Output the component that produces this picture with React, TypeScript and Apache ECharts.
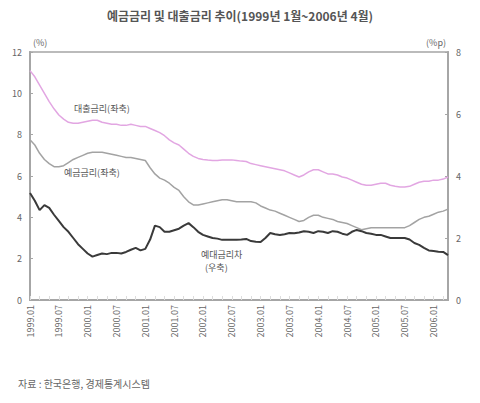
import { useEffect, useRef } from 'react';
import * as echarts from 'echarts';

// 1999.01 ~ 2006.04, monthly
const months: string[] = [];
for (let y = 1999; y <= 2006; y++) {
  for (let m = 1; m <= 12; m++) {
    if (y === 2006 && m > 4) break;
    months.push(`${y}.${String(m).padStart(2, '0')}`);
  }
}

// 대출금리 (좌축, %)
const loanRate = [
  11.1, 10.8, 10.4, 10.0, 9.6, 9.25, 8.95, 8.75, 8.6, 8.55, 8.55, 8.6,
  8.65, 8.7, 8.7, 8.6, 8.55, 8.5, 8.5, 8.45, 8.45, 8.5, 8.45, 8.4,
  8.4, 8.3, 8.2, 8.1, 7.95, 7.75, 7.6, 7.5, 7.3, 7.1, 6.95, 6.85,
  6.8, 6.77, 6.75, 6.75, 6.77, 6.77, 6.78, 6.75, 6.72, 6.7, 6.6, 6.55,
  6.5, 6.45, 6.4, 6.35, 6.3, 6.25, 6.15, 6.05, 5.95, 6.05, 6.2, 6.3,
  6.3, 6.2, 6.1, 6.1, 6.05, 5.95, 5.9, 5.8, 5.7, 5.6, 5.55, 5.55,
  5.6, 5.65, 5.65, 5.55, 5.5, 5.47, 5.47, 5.5, 5.6, 5.7, 5.75, 5.75,
  5.8, 5.8, 5.85, 5.95,
];

// 예금금리 (좌축, %)
const depositRate = [
  7.75, 7.5, 7.1, 6.8, 6.6, 6.45, 6.45, 6.5, 6.65, 6.8, 6.9, 7.0,
  7.1, 7.15, 7.15, 7.15, 7.1, 7.05, 7.0, 6.95, 6.9, 6.9, 6.85, 6.8,
  6.75, 6.4, 6.1, 5.9, 5.8, 5.65, 5.45, 5.3, 5.0, 4.75, 4.6, 4.6,
  4.65, 4.7, 4.75, 4.8, 4.85, 4.85, 4.8, 4.75, 4.75, 4.75, 4.75, 4.7,
  4.55, 4.45, 4.35, 4.3, 4.2, 4.1, 4.0, 3.9, 3.8, 3.85, 4.0, 4.1,
  4.1, 4.0, 3.95, 3.9, 3.8, 3.75, 3.7, 3.6, 3.5, 3.4, 3.45, 3.5,
  3.5, 3.5, 3.5, 3.5, 3.5, 3.5, 3.5, 3.6, 3.75, 3.9, 4.0, 4.05,
  4.15, 4.25, 4.3, 4.4,
];

// 예대금리차 (우축, %p)
const spread = [
  3.45, 3.2, 2.9, 3.06, 2.97, 2.75, 2.55, 2.35, 2.2, 2.0, 1.8, 1.65,
  1.5, 1.4, 1.45, 1.5, 1.48, 1.52, 1.52, 1.5, 1.55, 1.62, 1.68, 1.6,
  1.65, 1.95, 2.4, 2.35, 2.2, 2.2, 2.25, 2.3, 2.4, 2.48, 2.35, 2.2,
  2.1, 2.05, 2.0, 1.98, 1.94, 1.94, 1.94, 1.94, 1.95, 1.97, 1.9, 1.88,
  1.87, 2.0, 2.16, 2.12, 2.1, 2.12, 2.16, 2.15, 2.18, 2.22, 2.2, 2.16,
  2.22, 2.2, 2.16, 2.22, 2.2, 2.14, 2.1, 2.2, 2.26, 2.22, 2.16, 2.14,
  2.1, 2.1, 2.05, 2.0, 2.0, 2.0, 2.0, 1.95, 1.84, 1.78, 1.68, 1.6,
  1.58, 1.56, 1.55, 1.45,
];

const font = '"Noto Sans CJK KR", "Noto Sans", sans-serif';
const axisColor = '#a6a6a6';
const textColor = '#666';

export default function App() {
  const ref = useRef<HTMLDivElement>(null);

  useEffect(() => {
    if (!ref.current) return;
    const chart = echarts.init(ref.current, undefined, { renderer: 'svg' });

    const yAxisCommon = {
      type: 'value' as const,
      splitLine: { show: false },
      axisLine: { show: true, lineStyle: { color: axisColor, width: 2 } },
      axisTick: { show: true, inside: true, length: 3, lineStyle: { color: axisColor } },
      axisLabel: { color: textColor, fontSize: 9, fontFamily: font },
    };

    chart.setOption({
      animation: false,
      textStyle: { fontFamily: font },
      title: {
        text: '예금금리 및 대출금리 추이(1999년 1월~2006년 4월)',
        left: 'center',
        top: 4,
        textStyle: { fontSize: 12, fontWeight: 'bold', color: '#555', fontFamily: font },
      },
      grid: {
        left: 30,
        right: 32,
        top: 52,
        bottom: 103,
        show: true,
        borderColor: '#bbb',
        borderWidth: 2,
      },
      xAxis: {
        type: 'category',
        data: months,
        boundaryGap: false,
        axisLine: { lineStyle: { color: axisColor, width: 2 } },
        axisTick: { inside: true, length: 4, interval: 1, lineStyle: { color: '#ddd' } },
        axisLabel: {
          interval: 5,
          rotate: 90,
          fontSize: 9,
          color: textColor,
          fontFamily: font,
          margin: 5,
        },
      },
      yAxis: [
        { ...yAxisCommon, min: 0, max: 12, interval: 2, position: 'left' },
        { ...yAxisCommon, min: 0, max: 8, interval: 2, position: 'right' },
      ],
      series: [
        {
          name: '대출금리(좌축)',
          type: 'line',
          data: loanRate,
          yAxisIndex: 0,
          symbol: 'none',
          lineStyle: { color: '#e2a6e2', width: 1.5 },
        },
        {
          name: '예금금리(좌축)',
          type: 'line',
          data: depositRate,
          yAxisIndex: 0,
          symbol: 'none',
          lineStyle: { color: '#a3a3a3', width: 1.5 },
        },
        {
          name: '예대금리차(우축)',
          type: 'line',
          data: spread,
          yAxisIndex: 1,
          symbol: 'none',
          lineStyle: { color: '#3a3a3a', width: 2 },
        },
      ],
      graphic: [
        { type: 'text', left: 33, top: 38, style: { text: '(%)', fontSize: 9, fill: textColor, fontFamily: font } },
        { type: 'text', right: 34, top: 38, style: { text: '(%p)', fontSize: 9, fill: textColor, fontFamily: font } },
        { type: 'text', left: 74, top: 104, style: { text: '대출금리(좌축)', fontSize: 9, fill: '#555', fontFamily: font } },
        { type: 'text', left: 64, top: 168, style: { text: '예금금리(좌축)', fontSize: 9, fill: '#555', fontFamily: font } },
        {
          type: 'text',
          left: 201,
          top: 248,
          style: { text: '예대금리차\n  (우축)', fontSize: 9, lineHeight: 13, fill: '#555', fontFamily: font },
        },
        {
          type: 'text',
          left: 18,
          top: 378,
          style: { text: '자료 : 한국은행, 경제통계시스템', fontSize: 10, fill: textColor, fontFamily: font },
        },
      ],
    });

    return () => chart.dispose();
  }, []);

  return (
    <div
      ref={ref}
      style={{ position: 'fixed', left: 0, top: 0, width: 480, height: 403, background: '#fff' }}
    />
  );
}
